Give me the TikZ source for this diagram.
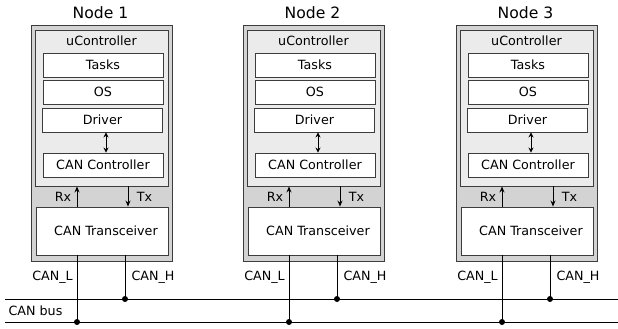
\documentclass[tikz,border=0pt]{standalone}
\usepackage{fontspec}
\setmainfont{DejaVu Sans}
\usetikzlibrary{arrows.meta}
\definecolor{outerfill}{HTML}{D3D3D3}
\definecolor{innerfill}{HTML}{EBEBEB}
\definecolor{edgegray}{HTML}{3C3C3C}
\newcommand{\labfont}{\fontsize{12.7}{15}\selectfont}
\newcommand{\titlefont}{\fontsize{15.6}{18}\selectfont}
\begin{document}
\begin{tikzpicture}[x=1pt,y=-1pt,
  unitbox/.style={draw=edgegray, fill=outerfill, line width=1pt, inner sep=0pt,
    minimum width=141pt, minimum height=235pt},
  ucbox/.style={draw=edgegray, fill=innerfill, line width=0.9pt, inner sep=0pt,
    minimum width=133pt, minimum height=156pt},
  layerbox/.style={draw=edgegray, fill=white, line width=0.9pt, inner sep=0pt,
    minimum width=120pt, minimum height=24pt, font=\labfont},
  trxbox/.style={draw=edgegray, fill=white, line width=0.9pt, inner sep=0pt,
    minimum width=132pt, minimum height=48pt, font=\labfont},
  lab/.style={font=\labfont, inner sep=0pt},
  title/.style={font=\titlefont, inner sep=0pt},
  sig/.style={line width=0.9pt, -{Stealth[length=6pt,width=5pt]}},
  dsig/.style={line width=0.9pt, {Stealth[length=5pt,width=5pt]}-{Stealth[length=5pt,width=5pt]}},
  wire/.style={line width=1pt, black},
  tap/.style={circle, fill=black, inner sep=0pt, minimum size=6pt}]
\useasboundingbox (0,0) rectangle (618,329);

% bus end points
\coordinate (hw) at (5,299);
\coordinate (he) at (618,299);
\coordinate (lw) at (5,322);
\coordinate (le) at (618,322);
\draw[wire] (hw) -- (he);
\draw[wire] (lw) -- (le);
\node[lab] (bus) at (35.5,311) {CAN bus};

\foreach \i/\dx in {1/0,2/212,3/425}{
  \node[title] (title\i) at (100.5+\dx,13) {Node \i};
  \node[unitbox] (unit\i) at (101.5+\dx,143.5) {};
  \node[ucbox] (uc\i) at (101.5+\dx,108) {};
  \node[lab] (uclab\i) at (101.5+\dx,40.5) {uController};
  \node[layerbox] (tasks\i) at (103+\dx,65) {Tasks};
  \node[layerbox] (os\i) at (103+\dx,92) {OS};
  \node[layerbox] (drv\i) at (102.5+\dx,120) {Driver};
  \node[layerbox] (ctl\i) at (103+\dx,165) {CAN Controller};
  \draw[dsig] ([xshift=3.5pt]drv\i.south) -- ([xshift=3pt]ctl\i.north);
  \node[trxbox] (trx\i) at (102+\dx,231) {\hspace*{8pt}CAN Transceiver};

  % signal lines between controller and transceiver
  \coordinate (rx\i) at (77+\dx,0);
  \coordinate (tx\i) at (128+\dx,0);
  \draw[sig] (trx\i.north -| rx\i) -- (uc\i.south -| rx\i);
  \draw[sig] (uc\i.south -| tx\i) -- (trx\i.north -| tx\i);
  \node[lab] (rxlab\i) at (63+\dx,196.5) {Rx};
  \node[lab] (txlab\i) at (144.5+\dx,196.5) {Tx};

  % bus taps
  \coordinate (l\i) at (77+\dx,322);
  \coordinate (h\i) at (125+\dx,299);
  \draw[wire] (trx\i.south -| l\i) -- (l\i);
  \draw[wire] (trx\i.south -| h\i) -- (h\i);
  \node[tap] (ldot\i) at (l\i) {};
  \node[tap] (hdot\i) at (h\i) {};
  \node[lab] (canl\i) at (52.5+\dx,277.5) {CAN\_L};
  \node[lab] (canh\i) at (153+\dx,277.5) {CAN\_H};
}
\end{tikzpicture}
\end{document}
